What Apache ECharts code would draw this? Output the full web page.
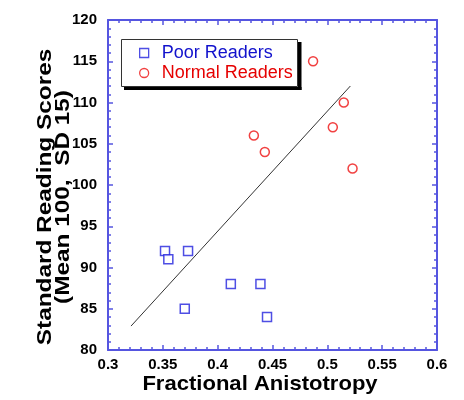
<!DOCTYPE html>
<html>
<head>
<meta charset="utf-8">
<script src="https://cdn.jsdelivr.net/npm/echarts@6/dist/echarts.min.js"></script>
<style>
  html, body { margin: 0; padding: 0; background: #fff; }
  #chart { width: 464px; height: 400px; }
</style>
</head>
<body>
<div id="chart"></div>
<script>
// values
var poorX = [0.352, 0.355, 0.373, 0.370, 0.412, 0.439, 0.445];
var poorY = [92, 91, 92, 85, 88, 88, 84];
var normalX = [0.487, 0.433, 0.443, 0.505, 0.515, 0.523];
var normalY = [115, 106, 104, 107, 110, 102];
var fitX = [0.321, 0.521];
var fitY = [82.9, 112.0];

var xTicks = [0.3, 0.35, 0.4, 0.45, 0.5, 0.55, 0.6];
var yTicks = [80, 85, 90, 95, 100, 105, 110, 115, 120];

function pairs(xs, ys) {
  return xs.map(function (x, i) { return [x, ys[i]]; });
}

var axisBlue = '#5555e0';
var labelFont = { color: '#000', fontFamily: 'Liberation Sans, Arial', fontWeight: 'bold', fontSize: 15 };

function xAxisOpt(pos, labels) {
  return {
    type: 'value', position: pos,
    min: xTicks[0], max: xTicks[xTicks.length - 1], interval: 0.05,
    axisLine: { show: true, onZero: false, lineStyle: { color: axisBlue, width: 2 } },
    axisTick: { show: true, inside: true, length: 5, lineStyle: { color: axisBlue, width: 1.5 } },
    minorTick: { show: true, splitNumber: 5, length: 3, lineStyle: { color: axisBlue, width: 1.5 } },
    splitLine: { show: false },
    axisLabel: Object.assign({ show: labels, margin: 7,
      formatter: function (v) { return +v.toFixed(2) + ''; } }, labelFont)
  };
}
function yAxisOpt(pos, labels) {
  return {
    type: 'value', position: pos,
    min: yTicks[0], max: yTicks[yTicks.length - 1], interval: 5,
    axisLine: { show: true, onZero: false, lineStyle: { color: axisBlue, width: 2 } },
    axisTick: { show: true, inside: true, length: 5, lineStyle: { color: axisBlue, width: 1.5 } },
    minorTick: { show: true, splitNumber: 5, length: 3, lineStyle: { color: axisBlue, width: 1.5 } },
    splitLine: { show: false },
    axisLabel: Object.assign({ show: labels, margin: 11 }, labelFont)
  };
}

var chart = echarts.init(document.getElementById('chart'), null, { renderer: 'canvas' });

var option = {
  backgroundColor: '#fff',
  animation: false,
  grid: { left: 108, right: 27, top: 20, bottom: 50, containLabel: false },
  xAxis: [xAxisOpt('bottom', true), xAxisOpt('top', false)],
  yAxis: [yAxisOpt('left', true), yAxisOpt('right', false)],
  legend: {
    orient: 'vertical',
    left: 121, top: 39,
    padding: [5, 6, 5, 18],
    itemGap: 2,
    itemWidth: 9, itemHeight: 9,
    selectedMode: false,
    z: 20,
    textStyle: { fontFamily: 'Liberation Sans, Arial', fontSize: 18, padding: [0, 0, 0, 8] },
    data: [
      { name: 'Poor Readers', icon: 'rect',
        itemStyle: { color: '#fff', borderColor: '#2222dd', borderWidth: 1.3 },
        textStyle: { color: '#1111cc' } },
      { name: 'Normal Readers', icon: 'circle',
        itemStyle: { color: '#fff', borderColor: '#ee1111', borderWidth: 1.3 },
        textStyle: { color: '#e60000' } }
    ]
  },
  graphic: {
    elements: [
      // legend frame
      { type: 'rect', z: 30, shape: { x: 121.5, y: 39.5, width: 176, height: 47 },
        style: { fill: 'rgba(0,0,0,0)', stroke: '#333', lineWidth: 1 } },
      // hard drop shadow: right strip and bottom strip
      { type: 'rect', z: 30, shape: { x: 298, y: 42, width: 3.5, height: 48 },
        style: { fill: '#000' } },
      { type: 'rect', z: 30, shape: { x: 124, y: 87, width: 177.5, height: 3 },
        style: { fill: '#000' } },
      { type: 'text', x: 260, y: 384, scaleX: 1.05,
        style: { text: 'Fractional Anistotropy', font: 'bold 21px "Liberation Sans", Arial',
          fill: '#000', align: 'center', verticalAlign: 'middle' } },
      { type: 'text', x: 54, y: 197, rotation: Math.PI / 2, scaleX: 1.16,
        style: { text: 'Standard Reading Scores\n(Mean 100,  SD 15)', font: 'bold 21px "Liberation Sans", Arial',
          lineHeight: 18, fill: '#000', align: 'center', verticalAlign: 'middle' } }
    ]
  },
  series: [
    {
      name: 'Fit', type: 'line', data: pairs(fitX, fitY),
      showSymbol: false, symbol: 'none', silent: true,
      lineStyle: { color: '#333', width: 1 }, z: 1
    },
    {
      name: 'Poor Readers', type: 'scatter', symbol: 'rect', symbolSize: 9,
      data: pairs(poorX, poorY),
      itemStyle: { color: '#fff', borderColor: '#2222dd', borderWidth: 1.5 }, z: 3
    },
    {
      name: 'Normal Readers', type: 'scatter', symbol: 'circle', symbolSize: 9,
      data: pairs(normalX, normalY),
      itemStyle: { color: '#fff', borderColor: '#ee1111', borderWidth: 1.5 }, z: 3
    }
  ]
};

chart.setOption(option);
</script>
</body>
</html>
